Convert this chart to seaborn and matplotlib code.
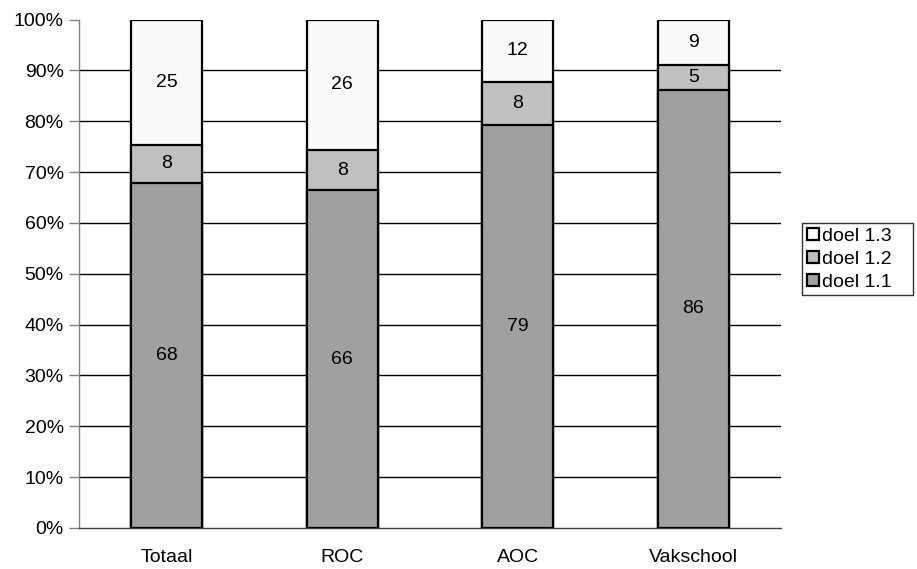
import matplotlib
matplotlib.use("Agg")
import matplotlib.pyplot as plt
import matplotlib.patches as mpatches
import pandas as pd
import numpy as np
import seaborn as sns

# data (percent of each bar)
categories = ["Totaal", "ROC", "AOC", "Vakschool"]
doel_11 = [67.8, 66.4, 79.3, 86.2]
doel_12 = [7.6, 7.9, 8.4, 4.8]
doel_13 = [24.6, 25.7, 12.3, 9.0]
series_names = ["doel 1.1", "doel 1.2", "doel 1.3"]
colors = ["#a0a0a0", "#c0c0c0", "#fafafa"]

df = pd.DataFrame({"cat": categories, "d11": doel_11, "d12": doel_12, "d13": doel_13})
df["c12"] = df["d11"] + df["d12"]
df["c13"] = df["c12"] + df["d13"]

sns.set_style("white")
plt.rcParams["font.family"] = ["Liberation Sans", "DejaVu Sans"]
plt.rcParams["text.color"] = "black"
plt.rcParams["xtick.color"] = "black"
plt.rcParams["ytick.color"] = "black"

fig = plt.figure(figsize=(9.17, 5.69), dpi=100)
ax = fig.add_axes([0.0861, 0.0721, 0.7656, 0.8936])

# draw cumulative totals, tallest first, so the stack shows through
bw = 0.405
for col, seg, c in [("c13", "d13", colors[2]), ("c12", "d12", colors[1]), ("d11", "d11", colors[0])]:
    sns.barplot(data=df, x="cat", y=col, color=c, width=bw, edgecolor="black",
                linewidth=1.6, saturation=1, ax=ax, zorder=3)
    cont = ax.containers[-1]
    for rect, val in zip(cont, df[seg]):
        y0 = rect.get_height() - val
        ax.text(rect.get_x() + rect.get_width() / 2, y0 + val / 2, "%.0f" % val,
                ha="center", va="center", fontsize=14, color="black", zorder=4)

ax.set_ylim(0, 100)
ax.set_xlim(-0.5, 3.5)
ax.set_yticks(np.arange(0, 101, 10))
ax.set_yticklabels(["%d%%" % v for v in range(0, 101, 10)], fontsize=14)
for v in range(10, 100, 10):
    ax.axhline(v, color="black", lw=1, zorder=1)

ax.set_xticks(range(len(categories)))
ax.set_xticklabels(categories, fontsize=14)
ax.set_xticks(np.arange(-0.5, 3.6, 1), minor=True)
ax.tick_params(axis="x", which="major", length=0, pad=15)
ax.tick_params(axis="x", which="minor", length=6, width=1, color="#404040", direction="out")
ax.tick_params(axis="y", length=7, width=1, color="#808080", direction="out", pad=4, left=True)
ax.set_xlabel("")
ax.set_ylabel("")

for s in ["top", "right"]:
    ax.spines[s].set_visible(False)
ax.spines["left"].set_color("#808080")
ax.spines["bottom"].set_color("#404040")
ax.spines["left"].set_linewidth(1)
ax.spines["bottom"].set_linewidth(1)

handles = [mpatches.Patch(facecolor=colors[i], edgecolor="black", linewidth=1.6, label=series_names[i])
           for i in [2, 1, 0]]
leg = fig.legend(handles=handles, loc="upper left",
                 bbox_to_anchor=(802 / 917, 1 - 293 / 569, 111 / 917, 70 / 569), mode="expand",
                 frameon=True, fancybox=False, fontsize=14, handlelength=0.6, handleheight=0.6,
                 handletextpad=0.2, borderpad=0.25, labelspacing=0.3, borderaxespad=0)
leg.get_frame().set_edgecolor("black")
leg.get_frame().set_linewidth(1)

fig.savefig("out.png", dpi=100)
